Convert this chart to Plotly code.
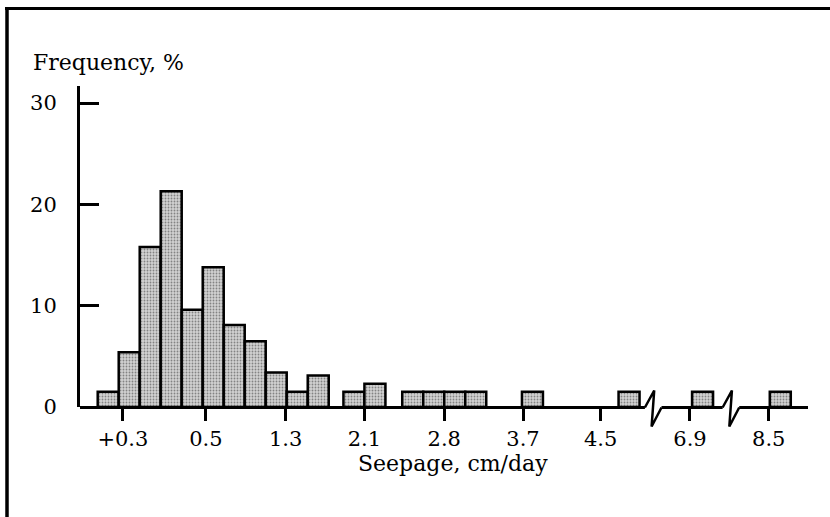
import plotly.graph_objects as go

# ---- data (bin positions in "bin-width" units along the broken axis) ----
bin_left = [0, 1, 2, 3, 4, 5, 6, 7, 8, 9, 10,
            11.7, 12.7, 14.5, 15.5, 16.5, 17.5, 20.2, 24.8, 28.3, 32.0]
frequency = [1.5, 5.4, 15.8, 21.3, 9.6, 13.8, 8.1, 6.5, 3.4, 1.5, 3.1,
             1.5, 2.3, 1.5, 1.5, 1.5, 1.5, 1.5, 1.5, 1.5, 1.5]
tick_pos = [1.2, 5.15, 8.95, 12.7, 16.5, 20.25, 23.95, 28.2, 31.95]
tick_labels = ["+0.3", "0.5", "1.3", "2.1", "2.8", "3.7", "4.5", "6.9", "8.5"]
y_ticks = [0, 10, 20, 30]
break_pos = [26.45, 30.15]

W, H = 830, 517
L, R, T, B = 80, 22, 86, 110
X_RANGE = [-0.843, 33.82]
Y_RANGE = [0, 31.69]
FONT = "DejaVu Serif"

def px_x(p):
    return (p - L) / (W - L - R)

def px_y(p):
    return (H - B - p) / (H - T - B)

centers = [b + 0.5 for b in bin_left]

fig = go.Figure()
fig.add_trace(go.Bar(
    x=centers, y=frequency, width=[1] * len(centers),
    marker=dict(color="#c8c8c8",
                line=dict(color="black", width=2.5),
                pattern=dict(shape=".", fgcolor="#333333", bgcolor="#d2d2d2",
                             size=3, solidity=0.3)),
    showlegend=False, hoverinfo="skip",
))

shapes = []
# baseline with breaks
ux_per_px = (X_RANGE[1] - X_RANGE[0]) / (W - L - R)
half = 8.3 * ux_per_px
segs = [X_RANGE[0]]
for c in break_pos:
    segs += [c - half, c + half]
segs.append(X_RANGE[1])
for i in range(0, len(segs), 2):
    shapes.append(dict(type="line", xref="x", yref="paper",
                       x0=segs[i], x1=segs[i + 1], y0=px_y(407.5), y1=px_y(407.5),
                       line=dict(color="black", width=3)))
for c in break_pos:
    path = "M {a},{ya} L {b},{yb} L {d},{yd} L {e},{ye}".format(
        a=c - half, ya=px_y(407.5),
        b=c + 1 * ux_per_px, yb=px_y(390.5),
        d=c - 1.6 * ux_per_px, yd=px_y(426.5),
        e=c + half, ye=px_y(407.5))
    shapes.append(dict(type="path", xref="x", yref="paper", path=path,
                       line=dict(color="black", width=2.5)))

# outer frame (top and left edges)
shapes.append(dict(type="line", xref="paper", yref="paper",
                   x0=px_x(5), x1=px_x(832), y0=px_y(8.5), y1=px_y(8.5),
                   line=dict(color="black", width=3)))
shapes.append(dict(type="line", xref="paper", yref="paper",
                   x0=px_x(7), x1=px_x(7), y0=px_y(7), y1=px_y(520),
                   line=dict(color="black", width=3.5)))

annotations = [
    dict(text="Frequency, %", xref="paper", yref="paper",
         x=px_x(31), y=px_y(62), xanchor="left", yanchor="middle",
         showarrow=False, font=dict(family=FONT, size=22, color="black")),
    dict(text="Seepage, cm/day", xref="paper", yref="paper",
         x=px_x(453), y=px_y(463), xanchor="center", yanchor="middle",
         showarrow=False, font=dict(family=FONT, size=22, color="black")),
]

fig.update_layout(
    width=W, height=H,
    margin=dict(l=L, r=R, t=T, b=B, pad=0),
    paper_bgcolor="white", plot_bgcolor="white",
    bargap=0,
    font=dict(family=FONT, size=21, color="black"),
    shapes=shapes, annotations=annotations,
    xaxis=dict(range=X_RANGE, showgrid=False, zeroline=False, showline=False,
               tickmode="array", tickvals=tick_pos, ticktext=tick_labels,
               ticks="outside", ticklen=13, tickwidth=3, tickcolor="black",
               tickfont=dict(family=FONT, size=21, color="black")),
    yaxis=dict(range=Y_RANGE, showgrid=False, zeroline=False,
               showline=True, linewidth=3, linecolor="black",
               tickmode="array", tickvals=y_ticks,
               ticks="inside", ticklen=19, tickwidth=3, tickcolor="black",
               ticklabelstandoff=16, ticklabelshift=0,
               tickfont=dict(family=FONT, size=21, color="black")),
)

fig.write_html("out.html",
               config={"displayModeBar": False, "staticPlot": True},
               post_script="document.body.style.margin='0';document.body.style.overflow='hidden';")
